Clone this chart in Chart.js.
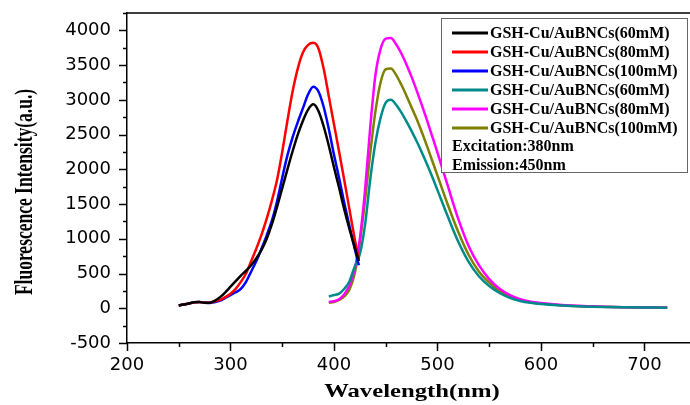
<!DOCTYPE html>
<html>
<head>
<meta charset="utf-8">
<script src="https://cdn.jsdelivr.net/npm/chart.js@4.4.1/dist/chart.umd.min.js"></script>
<style>
  html, body { margin: 0; padding: 0; background: #fff; overflow: hidden; }
  #wrap { width: 690px; height: 405px; }
</style>
</head>
<body>
<div id="wrap"><canvas id="grafico" width="690" height="405"></canvas></div>
<script>
// excitation spectra (em. 450nm)
var exWavelength = [250, 255, 260, 265, 270, 275, 280, 285, 290, 295, 300, 305, 310, 315, 320, 325, 330, 335, 340, 345, 350, 355, 360, 365, 370, 375, 380, 385, 390, 395, 400, 405, 410, 415, 420, 424];
var exBlack60 = [40, 55, 70, 85, 90, 80, 80, 110, 160, 230, 310, 390, 470, 540, 620, 720, 840, 1000, 1210, 1460, 1730, 2000, 2260, 2500, 2700, 2860, 2935, 2840, 2620, 2340, 2030, 1730, 1420, 1140, 880, 680];
var exRed80 = [40, 55, 70, 85, 90, 80, 80, 100, 120, 160, 210, 280, 380, 500, 680, 860, 1060, 1290, 1550, 1850, 2250, 2700, 3120, 3450, 3680, 3790, 3820, 3740, 3450, 3050, 2650, 2250, 1840, 1420, 1000, 700];
var exBlue100 = [40, 55, 70, 85, 90, 80, 75, 90, 110, 150, 190, 230, 280, 380, 530, 680, 860, 1050, 1260, 1540, 1880, 2200, 2460, 2680, 2880, 3080, 3190, 3120, 2900, 2580, 2210, 1870, 1510, 1180, 860, 620];

// emission spectra (ex. 380nm)
var emWavelength = [395, 400, 405, 410, 415, 420, 425, 430, 435, 440, 445, 450, 455, 460, 465, 470, 475, 480, 485, 490, 495, 500, 510, 520, 530, 540, 550, 560, 570, 580, 590, 600, 620, 640, 660, 680, 700, 722];
var emTeal60 = [170, 190, 210, 280, 390, 600, 780, 1200, 1850, 2380, 2740, 2960, 3000, 2930, 2820, 2690, 2550, 2400, 2240, 2070, 1890, 1700, 1320, 960, 670, 460, 320, 220, 150, 105, 78, 60, 40, 27, 19, 14, 11, 9];
var emMagenta80 = [90, 100, 130, 200, 330, 560, 1000, 1700, 2600, 3350, 3730, 3880, 3890, 3800, 3670, 3510, 3330, 3130, 2920, 2700, 2470, 2240, 1760, 1290, 900, 620, 420, 280, 190, 130, 95, 75, 48, 32, 22, 16, 12, 10];
var emOlive100 = [80, 90, 120, 170, 270, 500, 950, 1550, 2230, 2830, 3250, 3440, 3450, 3360, 3220, 3060, 2890, 2720, 2530, 2330, 2120, 1910, 1490, 1100, 770, 530, 370, 250, 170, 120, 88, 68, 44, 30, 21, 15, 12, 10];

var nomes = ["GSH-Cu/AuBNCs(60mM)", "GSH-Cu/AuBNCs(80mM)", "GSH-Cu/AuBNCs(100mM)",
             "GSH-Cu/AuBNCs(60mM)", "GSH-Cu/AuBNCs(80mM)", "GSH-Cu/AuBNCs(100mM)"];
var cores = ["#000000", "#ff0000", "#0000ff", "#008b8b", "#ff00ff", "#808000"];
var notas = ["Excitation:380nm", "Emission:450nm"];
var xTicks = [200, 300, 400, 500, 600, 700];
var yTicks = [-500, 0, 500, 1000, 1500, 2000, 2500, 3000, 3500, 4000];

function pontos(xs, ys) {
    return xs.map(function(x, i) { return { x: x, y: ys[i] }; });
}

function serie(i, xs, ys) {
    return {
        label: nomes[i],
        data: pontos(xs, ys),
        borderColor: cores[i],
        backgroundColor: cores[i],
        borderWidth: 2.5,
        pointRadius: 0,
        fill: false,
        cubicInterpolationMode: 'monotone'
    };
}

// ticks, frame, titles and legend box
var decoracao = {
    id: 'decoracao',
    afterDraw: function(chart) {
        var ctx = chart.ctx;
        var a = chart.chartArea;
        var sx = chart.scales.x, sy = chart.scales.y;
        ctx.save();
        ctx.strokeStyle = '#000';
        ctx.lineWidth = 1.5;
        ctx.beginPath();
        ctx.moveTo(a.left, a.top);
        ctx.lineTo(a.right, a.top);
        for (var v = 200; v <= 740; v += 50) {
            var px = Math.round(sx.getPixelForValue(v)) + 0.5;
            ctx.moveTo(px, a.bottom);
            ctx.lineTo(px, a.bottom + (v % 100 === 0 ? 8 : 4));
        }
        for (var w = -500; w <= 4250; w += 250) {
            var py = Math.round(sy.getPixelForValue(w)) + 0.5;
            ctx.moveTo(a.left, py);
            ctx.lineTo(a.left - (w % 500 === 0 ? 8 : 4), py);
        }
        ctx.stroke();

        // axis titles
        ctx.fillStyle = '#000';
        ctx.textAlign = 'center';
        ctx.textBaseline = 'middle';
        ctx.font = 'bold 19px "Liberation Serif", "Times New Roman", serif';
        ctx.save();
        ctx.translate(412, 392);
        ctx.scale(1.3, 1);
        ctx.fillText('Wavelength(nm)', 0, 0);
        ctx.restore();

        ctx.save();
        ctx.translate(26, 192);
        ctx.rotate(-Math.PI / 2);
        ctx.scale(1, 1.4);
        ctx.font = 'bold 17.5px "Liberation Serif", "Times New Roman", serif';
        ctx.fillText('Fluorescence Intensity(a.u.)', 0, 0);
        ctx.restore();

        // legend box
        ctx.fillStyle = '#fff';
        ctx.fillRect(441.5, 18.5, 246, 154);
        ctx.strokeStyle = '#666';
        ctx.lineWidth = 1;
        ctx.strokeRect(441.5, 18.5, 246, 154);
        ctx.font = 'bold 16px "Liberation Serif", "Times New Roman", serif';
        ctx.textAlign = 'left';
        chart.data.datasets.forEach(function(ds, i) {
            var y = 33 + i * 19;
            ctx.strokeStyle = ds.borderColor;
            ctx.lineWidth = 3;
            ctx.beginPath();
            ctx.moveTo(452, y);
            ctx.lineTo(488, y);
            ctx.stroke();
            ctx.fillStyle = '#000';
            ctx.fillText(ds.label, 490, y + 1);
        });
        notas.forEach(function(t, j) {
            ctx.fillText(t, 452, 147 + j * 19);
        });
        ctx.restore();
    }
};

var canvas = document.getElementById('grafico');
var chart = new Chart(canvas, {
    type: 'line',
    data: {
        datasets: [
            serie(0, exWavelength, exBlack60),
            serie(1, exWavelength, exRed80),
            serie(2, exWavelength, exBlue100),
            serie(3, emWavelength, emTeal60),
            serie(4, emWavelength, emMagenta80),
            serie(5, emWavelength, emOlive100)
        ]
    },
    options: {
        responsive: false,
        animation: false,
        devicePixelRatio: 1,
        layout: { padding: { top: 13, left: 0, right: 0, bottom: 0 } },
        plugins: { legend: { display: false }, tooltip: { enabled: false } },
        scales: {
            x: {
                type: 'linear',
                min: 200,
                max: 744,
                afterFit: function(s) { s.height = 62; s.paddingLeft = 0; s.paddingRight = 0; },
                afterBuildTicks: function(s) { s.ticks = xTicks.map(function(v) { return { value: v }; }); },
                ticks: { color: '#000', padding: 4, maxRotation: 0, autoSkip: false,
                         callback: function(v) { return String(v); },
                         font: { family: '"DejaVu Sans", sans-serif', size: 18 } },
                grid: { drawOnChartArea: false, tickLength: 8, tickColor: 'transparent' },
                border: { color: '#000', width: 1.5 }
            },
            y: {
                min: -500,
                max: 4250,
                afterFit: function(s) { s.width = 127; s.paddingTop = 0; s.paddingBottom = 0; },
                afterBuildTicks: function(s) { s.ticks = yTicks.map(function(v) { return { value: v }; }); },
                ticks: { color: '#000', padding: 8, autoSkip: false,
                         callback: function(v) { return String(v); },
                         font: { family: '"DejaVu Sans", sans-serif', size: 18 } },
                grid: { drawOnChartArea: false, tickLength: 8, tickColor: 'transparent' },
                border: { color: '#000', width: 1.5 }
            }
        }
    },
    plugins: [decoracao]
});
</script>
</body>
</html>
